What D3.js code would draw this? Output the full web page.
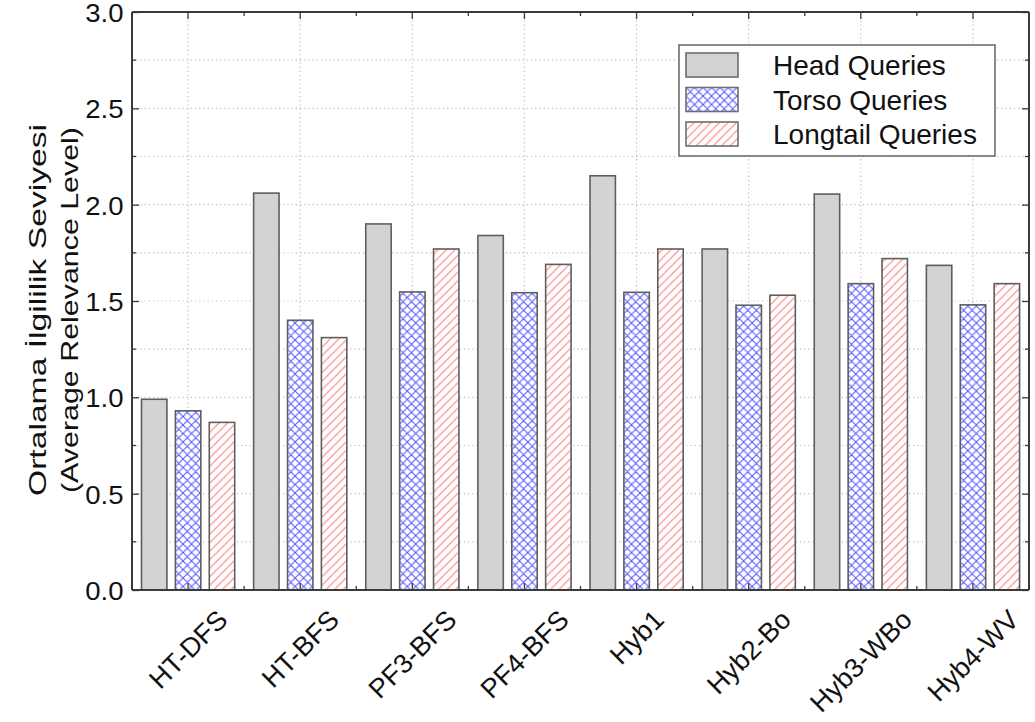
<!DOCTYPE html>
<html>
<head>
<meta charset="utf-8">
<script src="https://cdn.jsdelivr.net/npm/d3@7"></script>
<style>
  body { margin: 0; background: #fff; }
  text { font-family: "Liberation Sans", Arial, sans-serif; fill: #111; }
</style>
</head>
<body>
<div id="chart"></div>
<script>
// Data
var methods = ["HT-DFS", "HT-BFS", "PF3-BFS", "PF4-BFS", "Hyb1", "Hyb2-Bo", "Hyb3-WBo", "Hyb4-WV"];
var seriesNames = ["Head Queries", "Torso Queries", "Longtail Queries"];
var headValues     = [0.99, 2.06, 1.90, 1.84, 2.15, 1.77, 2.055, 1.685];
var torsoValues    = [0.93, 1.40, 1.547, 1.543, 1.545, 1.478, 1.59, 1.48];
var longtailValues = [0.87, 1.31, 1.77, 1.69, 1.77, 1.53, 1.72, 1.59];
var yTicks = [0, 0.5, 1.0, 1.5, 2.0, 2.5, 3.0];
var yMinorTicks = [0.25, 0.75, 1.25, 1.75, 2.25, 2.75];

var W = 1035, H = 722;
var plot = {left: 132, right: 1029, top: 12, bottom: 590};

var svg = d3.select("#chart").append("svg")
    .attr("width", W)
    .attr("height", H);

// Patterns
var defs = svg.append("defs");
var cross = defs.append("pattern")
    .attr("id", "cross")
    .attr("patternUnits", "userSpaceOnUse")
    .attr("width", 8.5).attr("height", 8.5);
cross.append("rect").attr("width", 8.5).attr("height", 8.5).attr("fill", "#fff");
cross.append("path")
    .attr("d", "M0,8.5 L8.5,0 M-2,2 L2,-2 M6.5,10.5 L10.5,6.5 M0,0 L8.5,8.5 M-2,6.5 L2,10.5 M6.5,-2 L10.5,2")
    .attr("stroke", "#3a3aff").attr("stroke-width", 1.05).attr("stroke-opacity", 0.85);

var diag = defs.append("pattern")
    .attr("id", "diag")
    .attr("patternUnits", "userSpaceOnUse")
    .attr("width", 8.5).attr("height", 8.5);
diag.append("rect").attr("width", 8.5).attr("height", 8.5).attr("fill", "#fff");
diag.append("path")
    .attr("d", "M0,8.5 L8.5,0 M-2,2 L2,-2 M6.5,10.5 L10.5,6.5")
    .attr("stroke", "#ff6464").attr("stroke-width", 1.05).attr("stroke-opacity", 0.85);

var fills = ["#d3d3d3", "url(#cross)", "url(#diag)"];

// Scales
var x0 = d3.scaleBand().domain(methods).range([plot.left, plot.right]);
var x1 = d3.scaleBand().domain(seriesNames).range([9.5, 102.7]).paddingInner(0.25);
var y = d3.scaleLinear().domain([0, 3]).range([plot.bottom, plot.top]);

var rows = methods.map(function(m, i) {
    return {method: m, values: [headValues[i], torsoValues[i], longtailValues[i]]};
});

// Grid
var grid = svg.append("g")
    .attr("stroke", "#bdbdbd")
    .attr("stroke-width", 1.2)
    .attr("stroke-dasharray", "1.2,3");
grid.selectAll(".hg")
    .data(yTicks.concat(yMinorTicks).filter(function(d) { return d > 0 && d < 3; }))
    .enter().append("line")
    .attr("x1", plot.left).attr("x2", plot.right)
    .attr("y1", function(d) { return y(d); })
    .attr("y2", function(d) { return y(d); });
grid.selectAll(".vg")
    .data(methods)
    .enter().append("line")
    .attr("x1", function(d) { return x0(d) + x0.bandwidth() / 2; })
    .attr("x2", function(d) { return x0(d) + x0.bandwidth() / 2; })
    .attr("y1", plot.top).attr("y2", plot.bottom);

// Bars
var groups = svg.selectAll(".group")
    .data(rows)
    .enter().append("g")
    .attr("transform", function(d) { return "translate(" + x0(d.method) + ",0)"; });
groups.selectAll("rect")
    .data(function(d) { return d.values.map(function(v, k) { return {k: k, v: v}; }); })
    .enter().append("rect")
    .attr("x", function(d) { return x1(seriesNames[d.k]); })
    .attr("width", x1.bandwidth())
    .attr("y", function(d) { return y(d.v); })
    .attr("height", function(d) { return y(0) - y(d.v); })
    .attr("fill", function(d) { return fills[d.k]; })
    .attr("stroke", "#5e5e5e")
    .attr("stroke-width", 1.6);

// Axes (box with inward ticks)
var axisColor = "#3a3a3a";
var yLeft = d3.axisLeft(y).tickValues(yTicks).tickSize(-7).tickPadding(8)
    .tickFormat(d3.format(".1f"));
var gl = svg.append("g").attr("transform", "translate(" + plot.left + ",0)").call(yLeft);
gl.selectAll("text").style("font-size", "26px").attr("dy", "0.36em")
    .attr("transform", "scale(1.06,1)");
gl.selectAll(".minor").data(yMinorTicks).enter().append("line")
    .attr("x1", 0).attr("x2", 4)
    .attr("y1", function(d) { return y(d); }).attr("y2", function(d) { return y(d); });

var yRight = d3.axisRight(y).tickValues(yTicks).tickSize(-7).tickFormat("");
var gr = svg.append("g").attr("transform", "translate(" + plot.right + ",0)").call(yRight);
gr.selectAll(".minor").data(yMinorTicks).enter().append("line")
    .attr("x1", 0).attr("x2", -4)
    .attr("y1", function(d) { return y(d); }).attr("y2", function(d) { return y(d); });

var xBottom = d3.axisBottom(x0).tickSize(-7).tickFormat("");
var gb = svg.append("g").attr("transform", "translate(0," + plot.bottom + ")").call(xBottom);
var xTop = d3.axisTop(x0).tickSize(-7).tickFormat("");
var gt = svg.append("g").attr("transform", "translate(0," + plot.top + ")").call(xTop);
var bounds = methods.slice(1).map(function(m) { return x0(m); });
gb.selectAll(".minor").data(bounds).enter().append("line")
    .attr("x1", function(d) { return d; }).attr("x2", function(d) { return d; })
    .attr("y1", 0).attr("y2", -4);
gt.selectAll(".minor").data(bounds).enter().append("line")
    .attr("x1", function(d) { return d; }).attr("x2", function(d) { return d; })
    .attr("y1", 0).attr("y2", 4);

[gl, gr, gb, gt].forEach(function(g) {
    g.selectAll("line").attr("stroke", axisColor).attr("stroke-width", 1.3);
    g.select(".domain").attr("stroke", axisColor).attr("stroke-width", 2);
    g.selectAll(".tick text").style("fill", "#111");
});
gl.select(".domain").attr("d", "M0," + plot.top + "V" + plot.bottom);
gr.select(".domain").attr("d", "M0," + plot.top + "V" + plot.bottom);
gb.select(".domain").attr("d", "M" + plot.left + ",0H" + plot.right);
gt.select(".domain").attr("d", "M" + plot.left + ",0H" + plot.right);

// X labels, rotated 45 degrees, top of rotated box below the axis
var labelTop = 608;
svg.selectAll(".xlab")
    .data(methods)
    .enter().append("text")
    .attr("text-anchor", "middle")
    .attr("dy", "0.35em")
    .style("font-size", "27px")
    .text(function(d) { return d; })
    .attr("transform", function(d) {
        var L = this.getComputedTextLength();
        var h = 19;
        var cy = labelTop + (L / 2 + h / 2) * Math.SQRT1_2;
        return "translate(" + (x0(d) + x0.bandwidth() / 2) + "," + cy + ") rotate(-45)";
    });

// Y title, two lines
var yMid = 310;
svg.append("text")
    .attr("transform", "translate(38," + yMid + ") rotate(-90)")
    .attr("text-anchor", "middle")
    .attr("dy", "0.35em")
    .attr("textLength", 372)
    .attr("lengthAdjust", "spacingAndGlyphs")
    .style("font-size", "24px")
    .text("Ortalama İlgililik Seviyesi");
svg.append("text")
    .attr("transform", "translate(70," + yMid + ") rotate(-90)")
    .attr("text-anchor", "middle")
    .attr("dy", "0.35em")
    .attr("textLength", 366)
    .attr("lengthAdjust", "spacingAndGlyphs")
    .style("font-size", "24px")
    .text("(Average Relevance Level)");

// Legend
var legend = svg.append("g").attr("transform", "translate(679,45)");
legend.append("rect")
    .attr("width", 316).attr("height", 111)
    .attr("fill", "#fff")
    .attr("stroke", "#6e6e6e").attr("stroke-width", 1.6);
var items = legend.selectAll(".item")
    .data(seriesNames)
    .enter().append("g")
    .attr("transform", function(d, i) { return "translate(7," + (8 + i * 34.5) + ")"; });
items.append("rect")
    .attr("width", 52).attr("height", 24)
    .attr("fill", function(d, i) { return fills[i]; })
    .attr("stroke", "#6e6e6e").attr("stroke-width", 1.6);
items.append("text")
    .attr("x", 87).attr("y", 12)
    .attr("dy", "0.36em")
    .style("font-size", "28px")
    .text(function(d) { return d; });
</script>
</body>
</html>
